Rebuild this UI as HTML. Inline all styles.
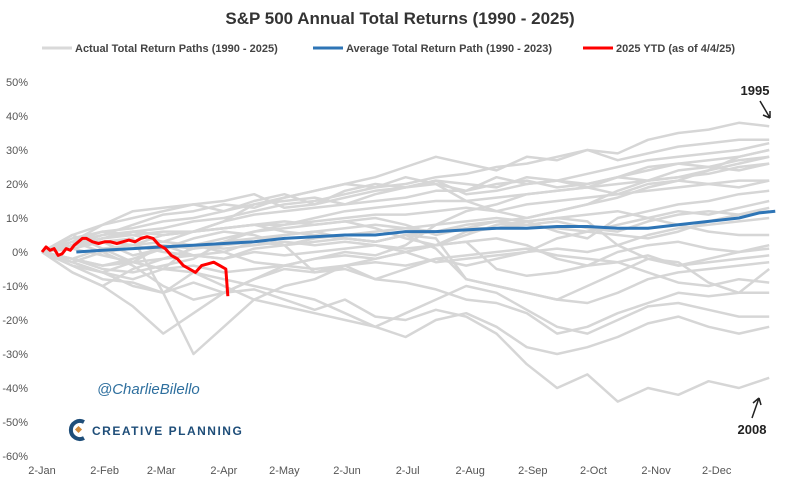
<!DOCTYPE html>
<html><head><meta charset="utf-8"><style>
body{margin:0;background:#fff;width:800px;height:487px;overflow:hidden;font-family:"Liberation Sans",sans-serif}
svg{display:block}
</style></head><body>
<svg id="chart" width="800" height="487">
<text x="400" y="24" text-anchor="middle" font-size="17" font-weight="bold" fill="#333">S&amp;P 500 Annual Total Returns (1990 - 2025)</text>
<g font-size="11" font-weight="bold" fill="#444">
<line x1="42" y1="48" x2="72" y2="48" stroke="#d9d9d9" stroke-width="3"/>
<text x="75" y="52">Actual Total Return Paths (1990 - 2025)</text>
<line x1="313" y1="48" x2="343" y2="48" stroke="#2e75b6" stroke-width="3"/>
<text x="346" y="52">Average Total Return Path (1990 - 2023)</text>
<line x1="583" y1="48" x2="613" y2="48" stroke="#ff0000" stroke-width="3"/>
<text x="616" y="52">2025 YTD (as of 4/4/25)</text>
</g>
<g id="yaxis" font-size="11" fill="#555"></g>
<g id="xaxis" font-size="11" fill="#555"></g>
<g id="gray"></g>
<g id="main"></g>
<text x="755" y="95" text-anchor="middle" font-size="13" font-weight="bold" fill="#222">1995</text>
<path d="M760 101 L770 118 M770 118 L763 115 M770 118 L770 111" stroke="#222" stroke-width="1.5" fill="none"/>
<text x="752" y="434" text-anchor="middle" font-size="13" font-weight="bold" fill="#222">2008</text>
<path d="M752 418 L759 398 M759 398 L753 403 M759 398 L761 405" stroke="#222" stroke-width="1.5" fill="none"/>
<text x="97" y="394" font-size="15" font-style="italic" fill="#2e6f9e">@CharlieBilello</text>
<g>
<path d="M84 422 A9 9 0 1 0 84 438" stroke="#1f4e79" stroke-width="4" fill="none"/>
<rect x="76" y="427" width="5" height="5" fill="#d08a3a" transform="rotate(45 78.5 429.5)"/>
<text x="92" y="435" font-size="12" font-weight="bold" fill="#1f4e79" letter-spacing="1.5">CREATIVE PLANNING</text>
</g>
</svg>
<script>
const yTicks=[50,40,30,20,10,0,-10,-20,-30,-40,-50,-60];
const xTickLabels=["2-Jan","2-Feb","2-Mar","2-Apr","2-May","2-Jun","2-Jul","2-Aug","2-Sep","2-Oct","2-Nov","2-Dec"];
const xTickDays=[0,31,59,90,120,151,181,212,243,273,304,334];
const grayDays=[0,15,30,45,60,75,90,105,120,135,150,165,180,195,210,225,240,255,270,285,300,315,330,345,360];
const gray1995=[0,2,4,6,7,9,10,12,14,15,17,19,20,22,23,25,26,28,30,29,33,35,36,38,37];
const gray2008=[0,-3,-6,-10,-12,-9,-12,-11,-14,-17,-14,-19,-20,-17,-19,-24,-33,-40,-36,-44,-40,-42,-38,-40,-37];
const gray2020=[0,2,3,4,-12,-30,-22,-14,-10,-8,-4,-2,0,2,5,8,9,6,4,10,12,14,15,17,18];
const gray2002=[0,-2,-4,-3,-5,-6,-8,-10,-12,-14,-18,-22,-25,-20,-18,-22,-28,-30,-28,-25,-21,-19,-22,-24,-22];
const gray2022=[0,-4,-8,-9,-12,-6,-10,-14,-16,-18,-20,-22,-18,-14,-10,-12,-17,-22,-24,-20,-16,-15,-17,-19,-19];
const gray1997=[0,3,6,5,3,6,9,14,16,18,20,22,25,28,26,24,28,27,30,27,29,31,32,33,33];
const gray2013=[0,4,6,7,9,10,12,14,15,16,14,17,19,21,20,19,22,21,23,25,27,28,29,30,32];
const gray2019=[0,5,8,10,12,14,15,17,13,14,18,20,19,21,17,18,20,21,20,22,25,26,27,28,30];
const gray2021=[0,1,3,2,5,6,9,11,12,13,14,15,16,18,18,20,21,19,20,22,24,26,25,27,28];
const gray2003=[0,-2,-5,-6,-4,-2,3,6,8,10,12,13,14,15,15,16,17,18,19,20,21,22,23,25,26];
const gray1998=[0,2,5,8,11,12,14,13,16,18,20,19,22,20,15,12,10,12,14,18,21,22,24,26,28];
const gray1991=[0,3,8,12,13,14,12,15,17,14,16,18,19,20,18,22,20,21,19,17,20,21,24,28,30];
const gray2009=[0,-6,-10,-16,-24,-18,-12,-8,-4,-2,0,-1,2,8,12,14,17,18,19,22,21,24,25,24,26];
const gray2017=[0,2,4,5,6,6,7,8,8,9,10,11,11,12,13,12,14,15,16,17,18,19,20,21,21];
const gray2010=[0,-2,-4,-2,1,4,6,5,2,-6,-4,-8,-5,-2,-4,-2,0,4,6,8,10,12,11,13,15];
const gray2001=[0,3,0,-4,-10,-14,-12,-8,-5,-6,-5,-8,-9,-11,-14,-15,-18,-24,-22,-18,-15,-12,-13,-12,-12];
const gray2018=[0,5,1,-3,2,-1,-2,1,2,4,5,6,7,8,9,10,9,10,9,2,-2,-3,-9,-12,-5];
const gray2011=[0,2,4,6,5,6,7,8,6,5,4,3,5,4,-8,-10,-12,-14,-10,-6,-2,-4,-2,0,2];
const gray2015=[0,-2,1,2,3,2,1,2,3,2,3,2,1,2,3,-5,-7,-6,-4,0,2,3,1,0,1];
const gray2000=[0,-3,-6,-8,-5,2,0,-3,-4,-2,-1,-2,0,2,3,4,2,-2,-4,-3,-6,-9,-10,-8,-9];
const gray2007=[0,2,3,-1,1,2,4,6,7,8,9,7,4,2,6,7,9,10,11,12,10,8,6,5,5];
const gray1990=[0,-4,-6,-3,-2,-1,0,3,5,6,4,3,5,1,-8,-10,-12,-14,-15,-12,-8,-6,-5,-4,-3];
const gray2016=[0,-6,-10,-5,-2,1,2,3,2,3,4,3,5,6,7,7,8,7,6,5,4,6,9,11,12];
const gray1996=[0,3,5,6,5,6,7,8,9,8,9,10,8,5,7,9,10,12,14,16,19,21,20,19,21];
const gray2014=[0,-3,0,1,2,1,3,4,5,6,7,8,7,6,8,9,8,9,7,6,9,11,12,11,13];
const gray2004=[0,2,3,2,0,-1,-2,0,-1,0,1,2,0,-3,-2,-1,0,1,0,2,5,7,8,9,10];
const gray1994=[0,1,-1,-3,-5,-4,-6,-5,-4,-5,-4,-3,-4,-2,-1,0,1,-1,-2,-3,-1,-4,-3,-2,-1];
const grayPaths=[gray1995,gray2008,gray2020,gray2002,gray2022,gray1997,gray2013,gray2019,gray2021,gray2003,gray1998,gray1991,gray2009,gray2017,gray2010,gray2001,gray2018,gray2011,gray2015,gray2000,gray2007,gray1990,gray2016,gray1996,gray2014,gray2004,gray1994];
const avgDays=[17,30,45,60,75,90,105,120,135,150,165,180,195,210,225,240,255,270,285,300,315,330,345,355,363];
const avgValues=[0,0.5,1,1.5,2,2.5,3,4,4.5,5,5,6,6,6.5,7,7,7.5,7.5,7,7,8,9,10,11.5,12];
const ytdDays=[0,2,4,6,8,10,12,14,16,18,20,22,25,28,31,34,37,40,43,46,49,52,55,58,61,64,67,70,73,76,79,82,85,88,91,92];
const ytdValues=[0,1.5,0.5,1,-1,-0.5,1,0.5,2,3,4,4,3,2.5,3,3,2.5,3,3.5,3,4,4.5,4,2,1,-1,-2,-4,-5,-6,-4,-3.5,-3,-4,-5,-13];
const x=d=>42+d*2.02;
const y=v=>252-v*3.4;
const NS="http://www.w3.org/2000/svg";
function mk(t,p,parent){const e=document.createElementNS(NS,t);for(const k in p)e.setAttribute(k,p[k]);parent.appendChild(e);return e;}
const ya=document.getElementById('yaxis');
yTicks.forEach(v=>{const t=mk('text',{x:28,y:y(v)+4,'text-anchor':'end'},ya);t.textContent=v+'%';

});
const xa=document.getElementById('xaxis');
xTickLabels.forEach((l,i)=>{const t=mk('text',{x:x(xTickDays[i]),y:474,'text-anchor':'middle'},xa);t.textContent=l;

});
function line(days,vals,parent,stroke,w){return mk('polyline',{points:days.map((d,i)=>x(d)+','+y(vals[i])).join(' '),fill:'none',stroke:stroke,'stroke-width':w,'stroke-linejoin':'round'},parent);}
const g=document.getElementById('gray');
grayPaths.forEach(p=>{const l=line(grayDays,p,g,'#d6d6d6',2.5);

});
const m=document.getElementById('main');
const a=line(avgDays,avgValues,m,'#2e75b6',3);


const r=line(ytdDays,ytdValues,m,'#ff0000',3);


</script>
</body></html>
